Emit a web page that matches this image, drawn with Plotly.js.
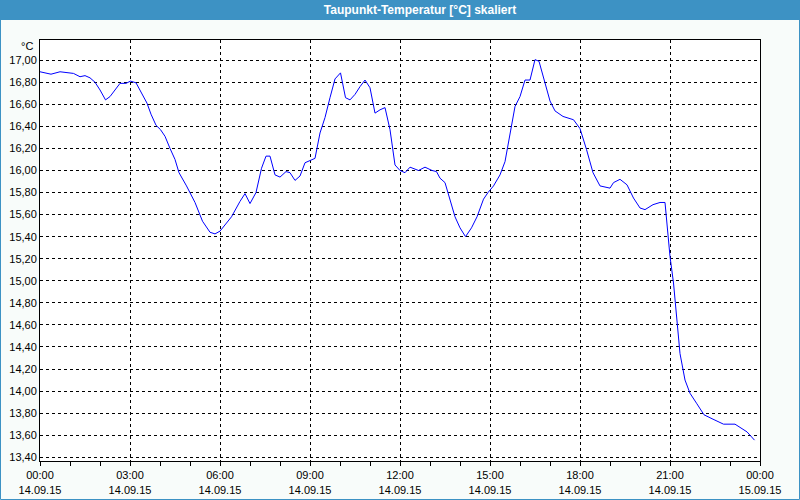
<!DOCTYPE html>
<html>
<head>
<meta charset="utf-8">
<script src="https://cdn.plot.ly/plotly-3.0.1.min.js"></script>
<style>
html,body{margin:0;padding:0;background:#F8FCFA;}
#chart{width:800px;height:500px;}
</style>
</head>
<body>
<div id="chart"></div>
<script>
const day = "2015-09-14";
const times = ["00:00","00:22","00:40","01:07","01:20","01:30","01:40","01:50","02:00","02:11","02:20","02:40","02:52","03:01","03:12","03:23","03:34","03:42","03:52","04:01","04:10","04:20","04:30","04:38","04:53","05:10","05:25","05:40","05:50","06:00","06:10","06:23","06:40","06:50","07:00","07:12","07:23","07:32","07:40","07:50","08:00","08:12","08:20","08:30","08:40","08:50","09:00","09:10","09:20","09:30","09:40","09:50","10:01","10:11","10:20","10:30","10:40","10:50","11:00","11:10","11:20","11:30","11:40","11:50","12:00","12:10","12:20","12:37","12:50","13:04","13:13","13:20","13:30","13:40","13:50","14:00","14:11","14:23","14:34","14:47","14:56","15:07","15:20","15:30","15:40","15:50","16:00","16:10","16:20","16:30","16:38","16:50","17:00","17:10","17:26","17:47","18:00","18:13","18:26","18:40","19:00","19:07","19:20","19:34","19:47","20:00","20:10","20:26","20:40","20:50","20:55","21:00","21:07","21:13","21:20","21:30","21:40","21:53","22:08","22:26","22:47","23:10","23:23","23:34","23:49"];
const dewpoint = [16.895,16.873,16.895,16.88,16.85,16.86,16.84,16.80,16.73,16.64,16.67,16.79,16.79,16.81,16.795,16.70,16.61,16.51,16.41,16.37,16.31,16.20,16.10,15.98,15.86,15.71,15.54,15.44,15.425,15.45,15.51,15.58,15.72,15.79,15.70,15.80,16.02,16.13,16.13,15.96,15.94,15.99,15.98,15.91,15.95,16.07,16.09,16.11,16.34,16.48,16.66,16.83,16.885,16.66,16.64,16.69,16.76,16.82,16.75,16.52,16.55,16.57,16.37,16.05,16.00,15.98,16.03,16.00,16.03,16.00,15.99,15.93,15.89,15.74,15.58,15.48,15.40,15.48,15.58,15.74,15.80,15.86,15.96,16.08,16.33,16.58,16.67,16.82,16.82,17.005,16.99,16.795,16.63,16.54,16.49,16.46,16.38,16.19,15.98,15.86,15.84,15.89,15.92,15.87,15.75,15.66,15.645,15.69,15.71,15.71,15.43,15.22,14.98,14.65,14.34,14.10,13.98,13.89,13.785,13.745,13.70,13.70,13.665,13.63,13.555];
const yTicks = [13.4,13.6,13.8,14.0,14.2,14.4,14.6,14.8,15.0,15.2,15.4,15.6,15.8,16.0,16.2,16.4,16.6,16.8,17.0];
const titleText = "Taupunkt-Temperatur [°C] skaliert";
const unitText = "°C";

const W = 800, H = 500, mL = 40, mR = 40, mT = 40, mB = 39;
const pw = W - mL - mR, ph = H - mT - mB;
const blue = "#3D92C4";
const px = v => (v - mL) / pw;          // pixel x -> paper
const py = v => 1 - (v - mT) / ph;      // pixel y -> paper

const trace = {
  x: times.map(t => day + " " + t),
  y: dewpoint,
  type: "scatter",
  mode: "lines",
  line: {color: "#0000FF", width: 1},
  hoverinfo: "x+y"
};

const layout = {
  width: W, height: H,
  margin: {l: mL, r: mR, t: mT, b: mB, pad: 0},
  paper_bgcolor: "#F8FCFA",
  plot_bgcolor: "#FFFFFF",
  separators: ",.",
  showlegend: false,
  font: {family: "Liberation Sans, Arial, sans-serif", size: 11, color: "#000000"},
  title: {
    text: "<b>" + titleText + "</b>",
    font: {family: "Liberation Sans, Arial, sans-serif", size: 12, color: "#FFFFFF"},
    x: 0.525, xanchor: "center", xref: "container",
    y: 1 - 10 / H, yanchor: "middle", yref: "container"
  },
  xaxis: {
    type: "date",
    range: ["2015-09-14 00:00", "2015-09-15 00:00"],
    tick0: "2015-09-14 00:00",
    dtick: 3 * 3600000,
    tickformat: "%H:%M<br>%d.%m.%y",
    showgrid: true, gridcolor: "#000000", gridwidth: 1, griddash: "3px,3px",
    showline: true, linecolor: "#000000", linewidth: 1, mirror: true,
    ticks: "outside", ticklen: 4, tickcolor: "#000000",
    minor: {dtick: 3600000, ticks: "outside", ticklen: 4, tickcolor: "#000000", showgrid: false},
    zeroline: false, fixedrange: true
  },
  yaxis: {
    range: [13.366, 17.183],
    tickvals: yTicks,
    tickformat: ".2f",
    showgrid: true, gridcolor: "#000000", gridwidth: 1, griddash: "3px,3px",
    showline: true, linecolor: "#000000", linewidth: 1, mirror: true,
    ticks: "", zeroline: false, fixedrange: true
  },
  shapes: [
    {type: "rect", xref: "paper", yref: "paper", x0: px(0), x1: px(W), y0: py(20), y1: py(0),
     fillcolor: blue, line: {width: 0}, layer: "above"},
    {type: "rect", xref: "paper", yref: "paper", x0: px(0.5), x1: px(W - 0.5), y0: py(H - 0.5), y1: py(0.5),
     fillcolor: "rgba(0,0,0,0)", line: {width: 1, color: blue}, layer: "above"}
  ],
  annotations: [
    {text: unitText, xref: "paper", yref: "paper", x: px(35), y: py(46),
     xanchor: "right", yanchor: "middle", showarrow: false,
     font: {family: "Liberation Sans, Arial, sans-serif", size: 11, color: "#000000"}}
  ]
};

Plotly.newPlot("chart", [trace], layout, {displayModeBar: false, staticPlot: true});
</script>
</body>
</html>
